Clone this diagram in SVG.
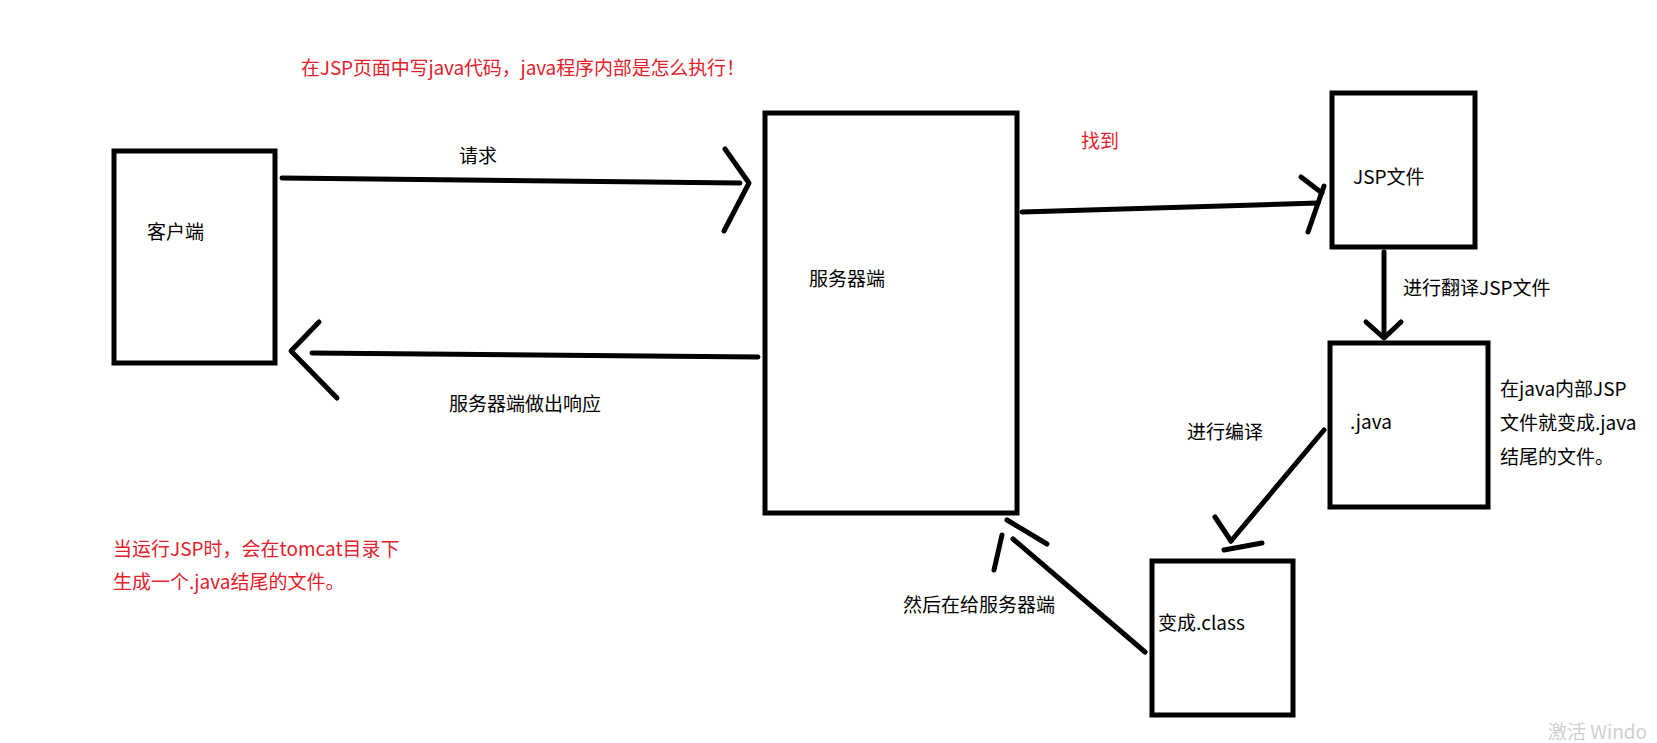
<svg xmlns="http://www.w3.org/2000/svg" width="1657" height="743" viewBox="0 0 1657 743">
<style>
.box{fill:none;stroke:#000;stroke-width:5}
.ln{fill:none;stroke:#000;stroke-width:5;stroke-linecap:round;stroke-linejoin:round}
.t{font-family:"Noto Sans CJK SC","Microsoft YaHei",sans-serif;font-size:19px;fill:#000}
.r{fill:#e3212b}
.wm{font-family:"Noto Sans CJK SC","Segoe UI",sans-serif;font-size:19px;fill:#cfcfcf}
</style>
<rect width="1657" height="743" fill="#fff"/>
<text class="t r" x="301" y="75" textLength="444">在JSP页面中写java代码，java程序内部是怎么执行！</text>
<text class="t r" x="113" y="556">当运行JSP时，会在tomcat目录下</text>
<text class="t r" x="113" y="589">生成一个.java结尾的文件。</text>
<g id="client">
<rect class="box" x="114" y="151" width="161" height="212"/>
<text class="t" x="147" y="239">客户端</text>
</g>
<g id="server">
<rect class="box" x="765" y="113" width="252" height="400"/>
<text class="t" x="809" y="286">服务器端</text>
</g>
<g id="jsp">
<rect class="box" x="1332" y="93" width="143" height="154"/>
<text class="t" x="1353" y="184">JSP文件</text>
</g>
<g id="java">
<rect class="box" x="1330" y="343" width="158" height="164"/>
<text class="t" x="1350" y="429">.java</text>
</g>
<g id="class">
<rect class="box" x="1152" y="561" width="141" height="154"/>
<text class="t" x="1158" y="630">变成.class</text>
</g>
<g id="connectors">
<path class="ln" d="M282 178 L740 183"/>
<path class="ln" d="M725 149 L749 183 L724 231"/>
<text class="t" x="459" y="163">请求</text>
<path class="ln" d="M758 357 L312 353"/>
<path class="ln" d="M319 322 L291 351 L337 398"/>
<text class="t" x="449" y="411">服务器端做出响应</text>
<path class="ln" d="M1022 212 L1318 203"/>
<path class="ln" d="M1301 177 L1322 193"/>
<path class="ln" d="M1324 186 L1308 232"/>
<text class="t r" x="1081" y="148">找到</text>
<path class="ln" d="M1384 252 L1384 337"/>
<path class="ln" d="M1366 322 L1384 338 L1401 322"/>
<text class="t" x="1403" y="295">进行翻译JSP文件</text>
<path class="ln" d="M1324 430 L1231 541"/>
<path class="ln" d="M1215 517 L1231 541"/>
<path class="ln" d="M1224 550 L1262 543"/>
<text class="t" x="1187" y="439">进行编译</text>
<path class="ln" d="M1145 652 L1013 539"/>
<path class="ln" d="M1007 520 L1047 544"/>
<path class="ln" d="M1002 535 L994 570"/>
<text class="t" x="903" y="612">然后在给服务器端</text>
</g>
<text class="t" x="1500" y="396">在java内部JSP</text>
<text class="t" x="1500" y="430">文件就变成.java</text>
<text class="t" x="1500" y="464">结尾的文件。</text>
<text class="wm" x="1548" y="739">激活 Windo</text>
</svg>
